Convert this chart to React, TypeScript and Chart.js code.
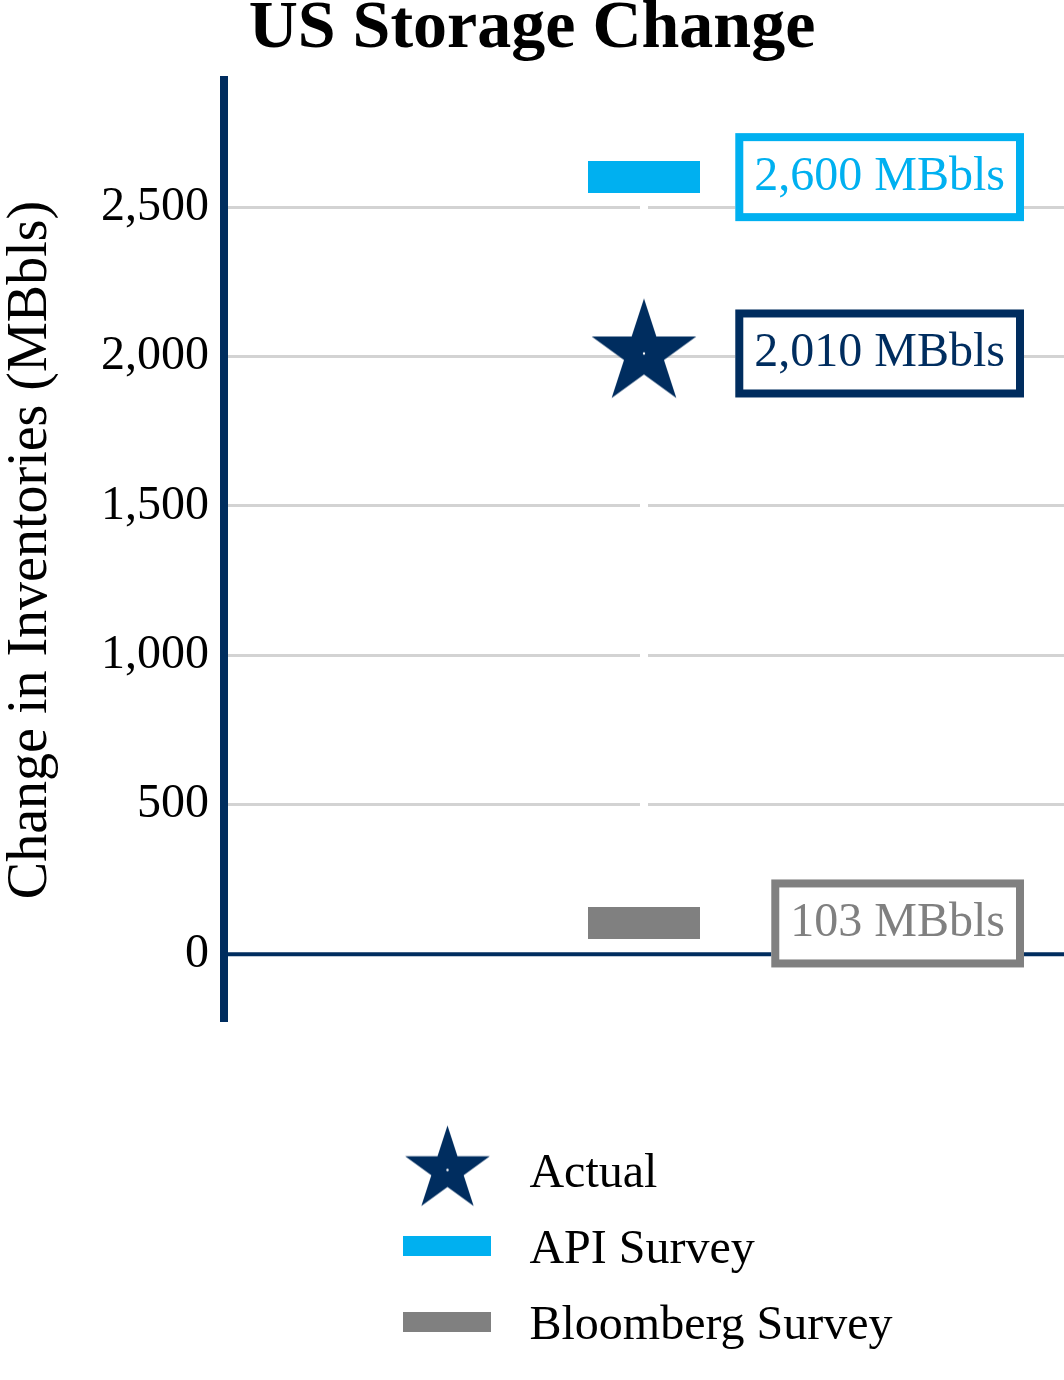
import { useEffect, useRef } from 'react';
import { Chart, registerables } from 'chart.js';

Chart.register(...registerables);

const categories = ['Week'];
const seriesNames = ['Actual', 'API Survey', 'Bloomberg Survey'];
const actualValues = [2010];
const apiValues = [2600];
const bloombergValues = [103];
const yTickValues = [0, 500, 1000, 1500, 2000, 2500];

const NAVY = '#002d5f';
const CYAN = '#00b0f0';
const GRAY = '#808080';
const SERIF = "'Liberation Serif', 'Times New Roman', Times, serif";

// filled five point star, centred in its own canvas
function starIcon(radius: number, color: string) {
  const size = Math.ceil(radius * 2) + 4;
  const c = document.createElement('canvas');
  c.width = size;
  c.height = size;
  const ctx = c.getContext('2d')!;
  const cx = size / 2;
  const cy = size / 2;
  ctx.beginPath();
  for (let i = 0; i < 10; i++) {
    const r = i % 2 === 0 ? radius : radius * 0.382;
    const a = -Math.PI / 2 + (i * Math.PI) / 5;
    const x = cx + r * Math.cos(a);
    const y = cy + r * Math.sin(a);
    if (i === 0) ctx.moveTo(x, y);
    else ctx.lineTo(x, y);
  }
  ctx.closePath();
  ctx.fillStyle = color;
  ctx.fill();
  ctx.beginPath();
  ctx.arc(cx, cy, 1.2, 0, Math.PI * 2);
  ctx.fillStyle = '#fff';
  ctx.fill();
  return c;
}

function barIcon(w: number, h: number, color: string) {
  const c = document.createElement('canvas');
  c.width = w;
  c.height = h;
  const ctx = c.getContext('2d')!;
  ctx.fillStyle = color;
  ctx.fillRect(0, 0, w, h);
  return c;
}

const zeroLine = {
  id: 'zeroLine',
  beforeDatasetsDraw(chart: any) {
    const { ctx, chartArea, scales } = chart;
    const y0 = scales.y.getPixelForValue(0);
    ctx.save();
    ctx.strokeStyle = NAVY;
    ctx.lineWidth = 4;
    ctx.beginPath();
    ctx.moveTo(chartArea.left, y0);
    ctx.lineTo(chartArea.right, y0);
    ctx.stroke();
    ctx.restore();
  },
};

const valueBoxes = {
  id: 'valueBoxes',
  afterDatasetsDraw(chart: any) {
    const { ctx, chartArea, scales } = chart;
    ctx.save();
    ctx.font = `48px ${SERIF}`;
    chart.data.datasets.forEach((ds: any) => {
      const v = ds.data[0];
      const text = `${v.toLocaleString('en-US')} MBbls`;
      const w = ctx.measureText(text).width + 38;
      const h = 88;
      const right = chartArea.right - 40;
      const left = right - w;
      const cy = scales.y.getPixelForValue(v);
      ctx.fillStyle = '#fff';
      ctx.fillRect(left, cy - h / 2, w, h);
      ctx.lineWidth = 8;
      ctx.strokeStyle = ds.boxColor;
      ctx.strokeRect(left + 4, cy - h / 2 + 4, w - 8, h - 8);
      ctx.fillStyle = ds.boxColor;
      ctx.textAlign = 'center';
      ctx.textBaseline = 'middle';
      ctx.fillText(text, left + w / 2, cy);
    });
    ctx.restore();
  },
};

const columnLegend = {
  id: 'columnLegend',
  afterDraw(chart: any) {
    const { ctx, chartArea } = chart;
    const sets = chart.data.datasets;
    ctx.save();
    ctx.font = `48px ${SERIF}`;
    const maxText = Math.max(...sets.map((d: any) => ctx.measureText(d.label).width));
    const blockW = 88 + 38 + maxText;
    const iconCx = (chartArea.left + chartArea.right) / 2 - blockW / 2 + 48;
    sets.forEach((ds: any, i: number) => {
      const rowY = chartArea.bottom + 150 + i * 76;
      const icon = ds.legendIcon;
      ctx.drawImage(icon, iconCx - icon.width / 2, rowY - icon.height / 2);
      ctx.fillStyle = '#000';
      ctx.textAlign = 'left';
      ctx.textBaseline = 'middle';
      ctx.fillText(ds.label, iconCx + 82, rowY + 4);
    });
    ctx.restore();
  },
};

export default function App() {
  const canvasRef = useRef<HTMLCanvasElement>(null);
  const chartRef = useRef<Chart | null>(null);

  useEffect(() => {
    document.body.style.margin = '0';
    document.body.style.overflow = 'hidden';
    if (!canvasRef.current) return;
    if (chartRef.current) chartRef.current.destroy();

    const series = [
      { values: actualValues, color: NAVY, point: starIcon(55, NAVY), icon: starIcon(44.5, NAVY) },
      { values: apiValues, color: CYAN, point: barIcon(112, 32, CYAN), icon: barIcon(88, 20, CYAN) },
      { values: bloombergValues, color: GRAY, point: barIcon(112, 32, GRAY), icon: barIcon(88, 20, GRAY) },
    ];

    chartRef.current = new Chart(canvasRef.current, {
      type: 'line',
      data: {
        labels: categories,
        datasets: series.map((s, i) => ({
          label: seriesNames[i],
          data: s.values,
          showLine: false,
          pointStyle: s.point,
          pointRadius: 1,
          pointHoverRadius: 1,
          borderColor: s.color,
          backgroundColor: s.color,
          boxColor: s.color,
          legendIcon: s.icon,
        })) as any,
      },
      options: {
        animation: false,
        responsive: false,
        devicePixelRatio: 1,
        events: [],
        layout: { autoPadding: false, padding: { top: 0, left: 0, right: 0, bottom: 360 } },
        plugins: {
          legend: { display: false },
          tooltip: { enabled: false },
          title: {
            display: true,
            text: 'US Storage Change',
            color: '#000',
            font: { family: SERIF, size: 68, weight: 'bold', lineHeight: 0.8 },
            padding: { top: 2, bottom: 23.6 },
          },
        },
        scales: {
          x: {
            type: 'category',
            offset: true,
            ticks: { display: false },
            grid: { color: '#ffffff', lineWidth: 8, drawTicks: false, z: -1 },
            border: { display: false },
          },
          y: {
            min: -220,
            max: 2925,
            afterBuildTicks: (scale: any) => {
              scale.ticks = yTickValues.map((v) => ({ value: v }));
            },
            afterFit: (scale: any) => {
              scale.width = 224;
            },
            ticks: {
              callback: (v: any) => Number(v).toLocaleString('en-US'),
              color: '#000',
              padding: 15,
              font: { family: SERIF, size: 48 },
            },
            grid: { color: '#d3d3d3', lineWidth: 3, drawTicks: false, z: -2 },
            border: { display: true, color: NAVY, width: 8 },
            title: {
              display: true,
              text: 'Change in Inventories (MBbls)',
              color: '#000',
              padding: 0,
              font: { family: SERIF, size: 56, lineHeight: 1.1 },
            },
          },
        },
      },
      plugins: [zeroLine, valueBoxes, columnLegend],
    });

    return () => {
      if (chartRef.current) {
        chartRef.current.destroy();
        chartRef.current = null;
      }
    };
  }, []);

  return (
    <div style={{ width: '1064px', height: '1380px' }}>
      <canvas ref={canvasRef} width={1064} height={1380} style={{ display: 'block' }} />
    </div>
  );
}
